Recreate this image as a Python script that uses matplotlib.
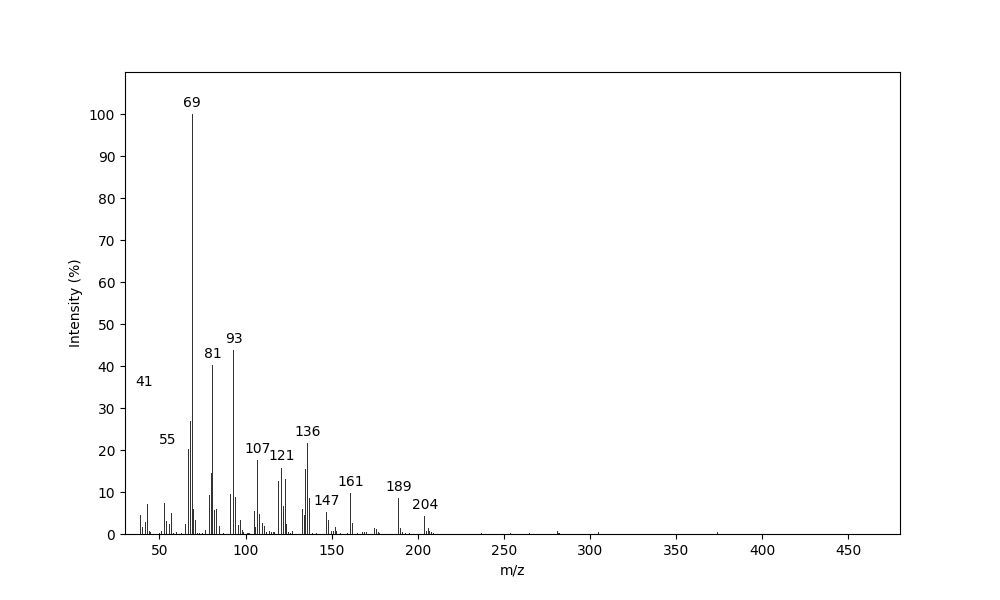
import matplotlib
matplotlib.use("Agg")
import matplotlib.pyplot as plt

mz = [39, 40, 42, 43, 44, 45, 50, 51, 53, 54, 56, 57, 58, 60, 63, 65, 67, 68, 69, 70,
      71, 72, 73, 75, 77, 79, 80, 81, 82, 83, 85, 87, 91, 93, 94, 96, 97, 98, 99, 101,
      102, 105, 106, 107, 108, 110, 111, 112, 114, 115, 116, 117, 119, 121, 122, 123, 124, 125, 126, 127,
      133, 134, 135, 136, 137, 139, 141, 147, 148, 150, 151, 152, 153, 155, 159, 161, 162, 165, 168, 169,
      170, 175, 176, 177, 178, 189, 190, 191, 193, 195, 204, 205, 206, 207, 208, 209, 237, 254, 265, 281,
      282, 305, 374]
intensity = [4.5, 1.6, 2.8, 7.1, 0.7, 0.5, 0.25, 0.6, 7.3, 3.1, 2.4, 5.0, 0.3, 0.5, 0.2, 2.4, 20.2, 27.0, 100.0, 6.0,
             3.3, 0.3, 0.25, 0.25, 1.0, 9.4, 14.6, 40.2, 5.7, 6.0, 1.8, 0.3, 9.5, 43.8, 8.8, 2.1, 3.3, 1.0, 0.5, 0.3,
             0.3, 5.5, 1.7, 17.6, 4.8, 2.7, 2.0, 0.5, 0.8, 0.5, 0.5, 0.4, 12.6, 15.8, 6.7, 13.1, 2.4, 0.5, 0.3, 0.7,
             6.0, 4.6, 15.4, 21.7, 8.5, 0.3, 0.3, 5.2, 3.4, 0.6, 0.8, 1.7, 0.6, 0.3, 0.3, 9.8, 2.6, 0.3, 0.5, 0.5,
             0.5, 1.5, 1.3, 0.5, 0.3, 8.6, 1.5, 0.5, 0.3, 0.3, 4.3, 0.7, 1.4, 0.7, 0.5, 0.3, 0.2, 0.2, 0.2, 0.6,
             0.3, 0.4, 0.4]

label_mz = [41, 55, 69, 81, 93, 107, 121, 136, 147, 161, 189, 204]
label_height = [33.5, 19.7, 100.0, 40.2, 43.8, 17.6, 15.8, 21.7, 5.2, 9.8, 8.6, 4.2]

fig, ax = plt.subplots(figsize=(10, 6), dpi=100)
ax.bar(mz, intensity, width=0.6, color="black", alpha=0.8)
for m, h in zip(label_mz, label_height):
    ax.text(m, h + 1, str(m), ha="center", va="bottom", fontsize=10)

ax.set_xlim(30, 480)
ax.set_ylim(0, 110)
ax.set_xticks(range(50, 451, 50))
ax.set_yticks(range(0, 101, 10))
ax.set_xlabel("m/z")
ax.set_ylabel("Intensity (%)")

fig.savefig("out.png", dpi=100)
